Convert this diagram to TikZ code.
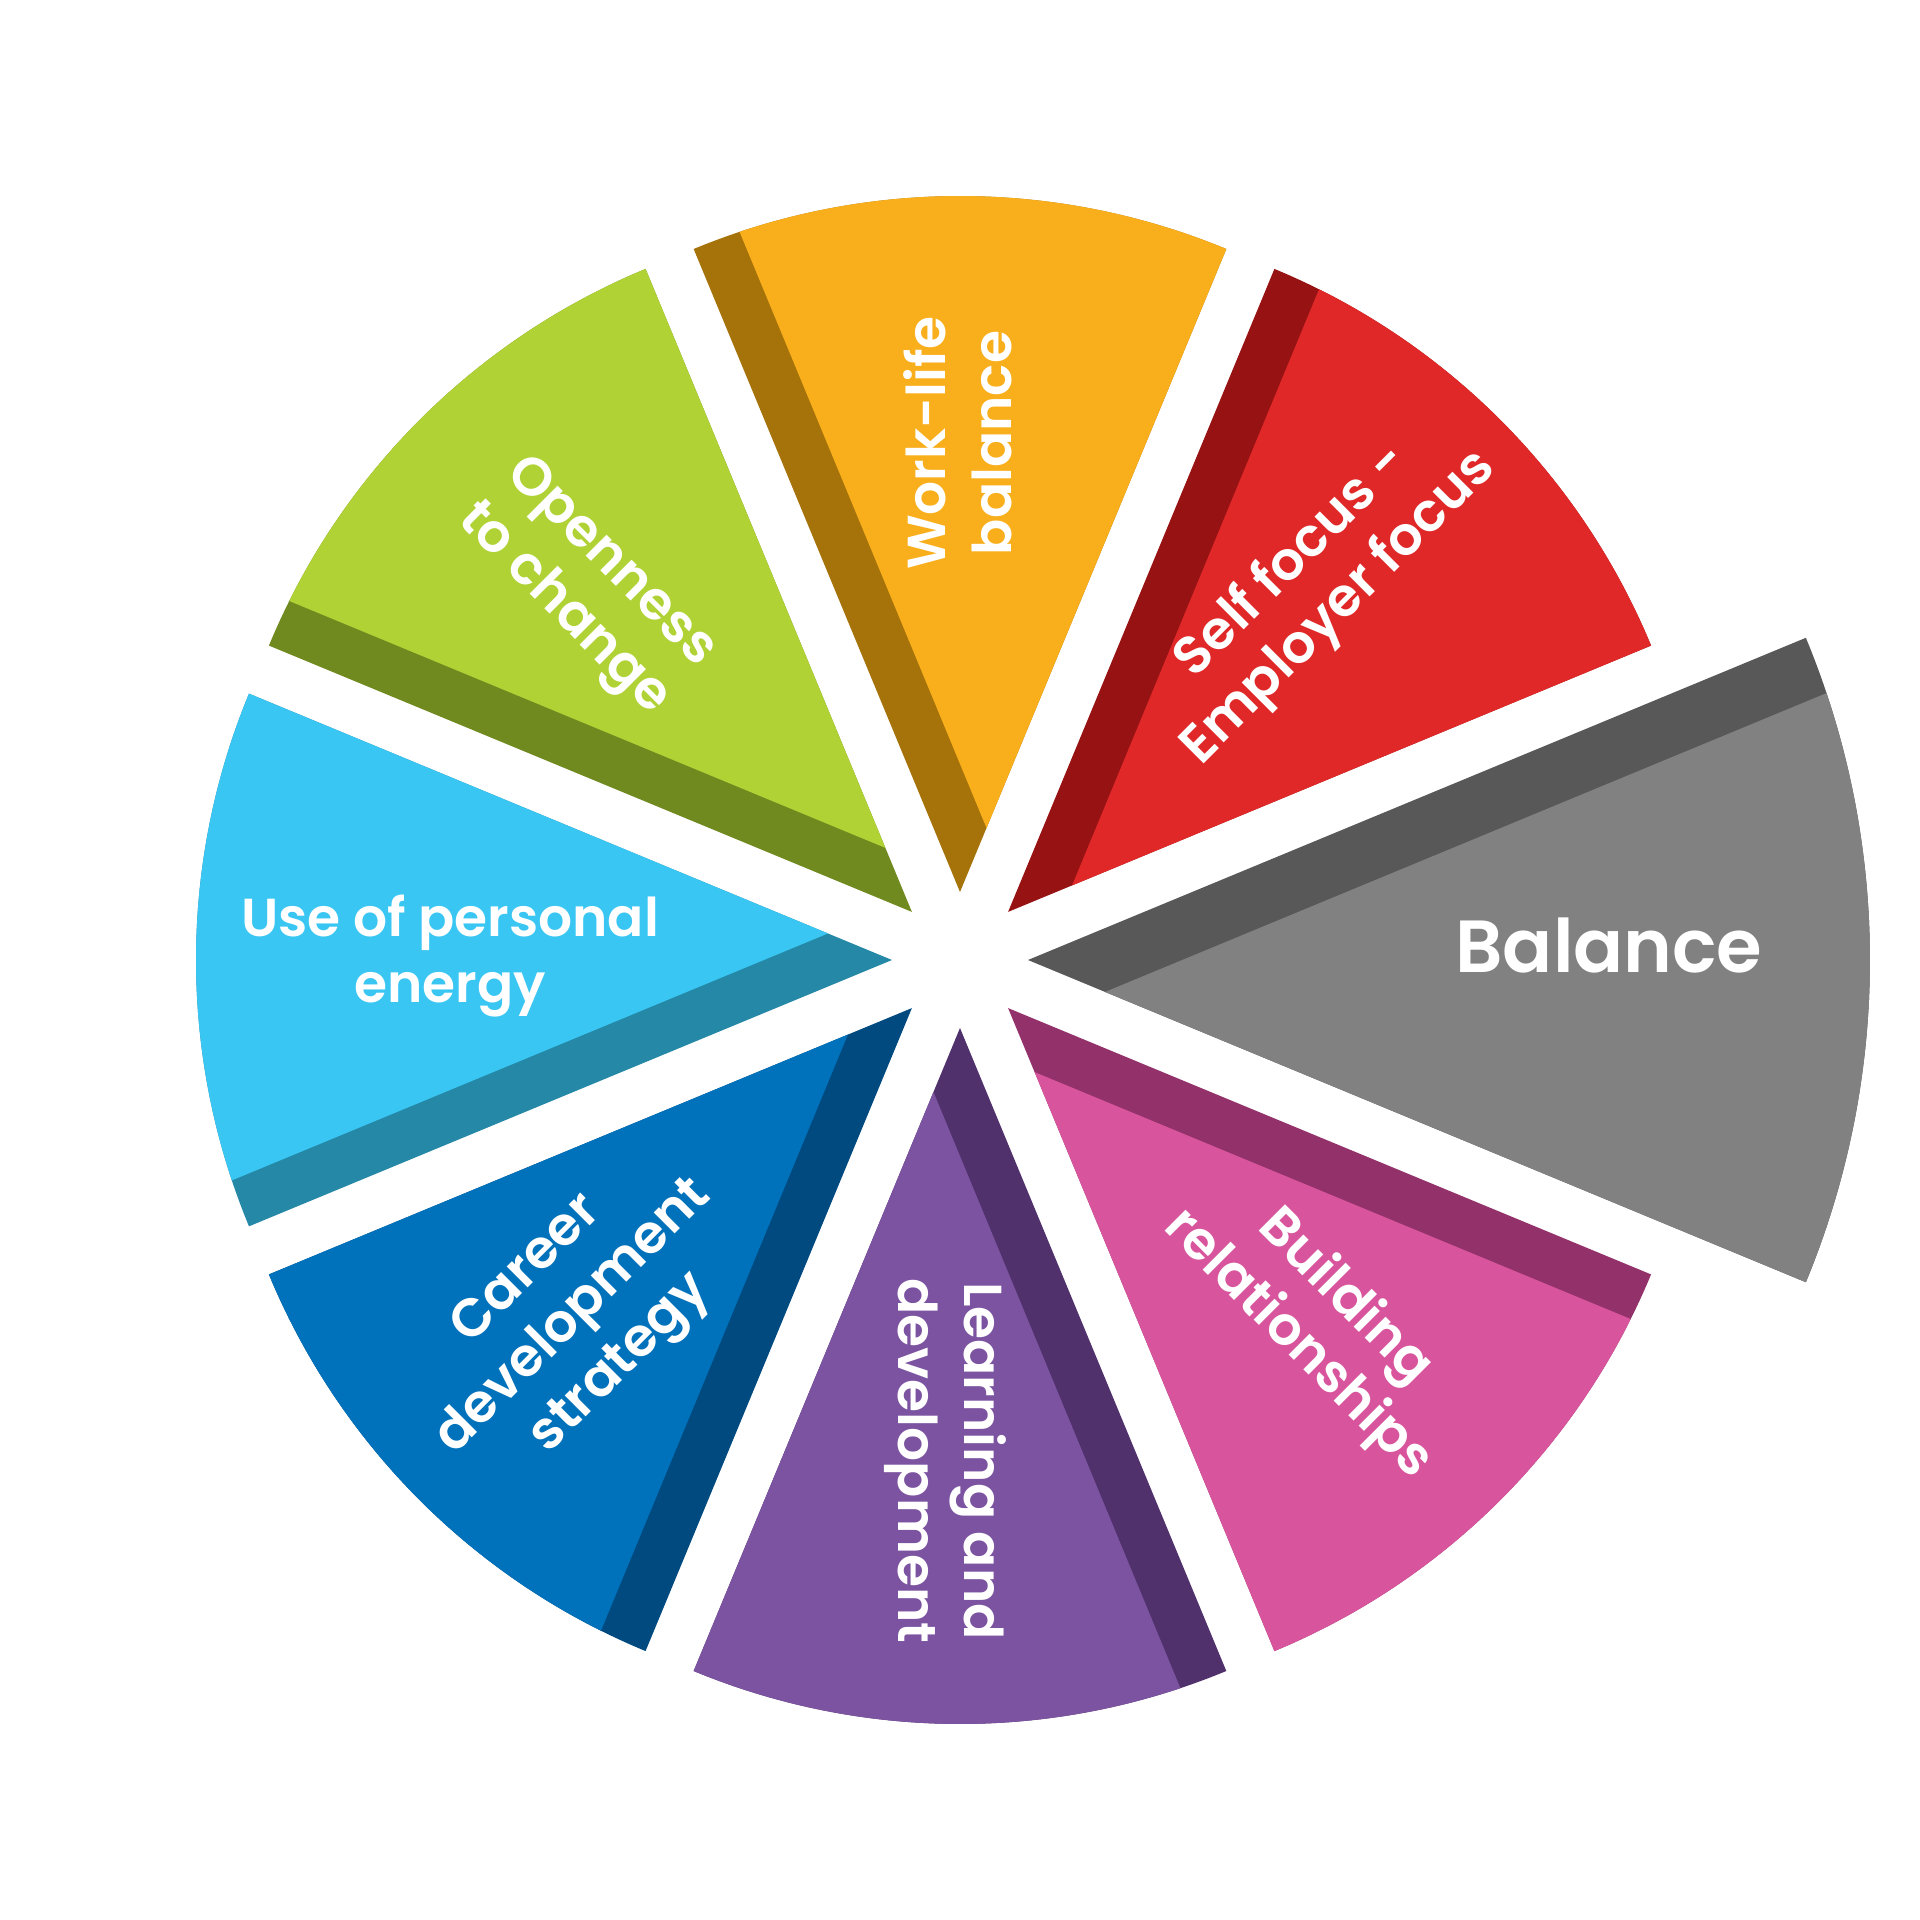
\documentclass[tikz,border=0pt]{standalone}
\usepackage{fontspec}
\setmainfont{Poppins}[BoldFont={Poppins SemiBold}]
\definecolor{wlL}{HTML}{F9AE1B}\definecolor{wlD}{HTML}{A6730A}
\definecolor{sfL}{HTML}{E02828}\definecolor{sfD}{HTML}{961213}
\definecolor{baL}{HTML}{808180}\definecolor{baD}{HTML}{575857}
\definecolor{brL}{HTML}{D8559D}\definecolor{brD}{HTML}{92316A}
\definecolor{ldL}{HTML}{7B53A0}\definecolor{ldD}{HTML}{50316C}
\definecolor{cdL}{HTML}{0071BB}\definecolor{cdD}{HTML}{004A80}
\definecolor{ueL}{HTML}{3AC6F3}\definecolor{ueD}{HTML}{2488A6}
\definecolor{ocL}{HTML}{B0D235}\definecolor{ocD}{HTML}{708A20}
\tikzset{lbl/.style={text=white, align=center, inner sep=0pt,
  font=\bfseries\fontsize{15.2}{18.8}\selectfont}}
% #1 angle, #2 radius, #3 strip width, #4 dark colour, #5 light colour
\newcommand{\wheelpart}[5]{%
  \begin{scope}[shift={(#1:68)}, rotate=#1]
    \pgfmathsetmacro\wpD{#3/sin(45)}
    \pgfmathsetmacro\wpA{22.5-asin(#3/#2)}
    \fill[#4] (0,0) -- (-22.5:#2) arc[start angle=-22.5, end angle=22.5, radius=#2] -- cycle;
    \fill[#5] (-22.5:\wpD) -- (-22.5:#2) arc[start angle=-22.5, end angle=\wpA, radius=#2] -- cycle;
  \end{scope}}
\begin{document}
\begin{tikzpicture}[x=0.01cm,y=0.01cm]
\fill[white] (-960,-960) rectangle (960,960);
\useasboundingbox (-960,-960) rectangle (960,960);
\wheelpart{90}{696}{49}{wlD}{wlL}
\wheelpart{45}{696}{49}{sfD}{sfL}
\wheelpart{0}{842}{59}{baD}{baL}
\wheelpart{-45}{696}{49}{brD}{brL}
\wheelpart{-90}{696}{49}{ldD}{ldL}
\wheelpart{-135}{696}{49}{cdD}{cdL}
\wheelpart{180}{696}{49}{ueD}{ueL}
\wheelpart{135}{696}{49}{ocD}{ocL}
\node[lbl, rotate=90] (t1) at (-2,517) {Work-life\\balance};
\node[lbl, rotate=45] (t2) at (356,375) {Self focus -\\Employer focus};
\node[lbl, font=\bfseries\fontsize{21}{25}\selectfont] (t3) at (649,14) {Balance};
\node[lbl, rotate=-45] (t4) at (361,-361) {Building\\relationships};
\node[lbl, rotate=-90] (t5) at (-15,-501) {Learning and\\development};
\node[lbl, rotate=45] (t6) at (-385,-358) {Career\\development\\strategy};
\node[lbl] (t7) at (-510,4) {Use of personal\\energy};
\node[lbl, rotate=-45] (t8) at (-374,373) {Openness\\to change};
\end{tikzpicture}
\end{document}
